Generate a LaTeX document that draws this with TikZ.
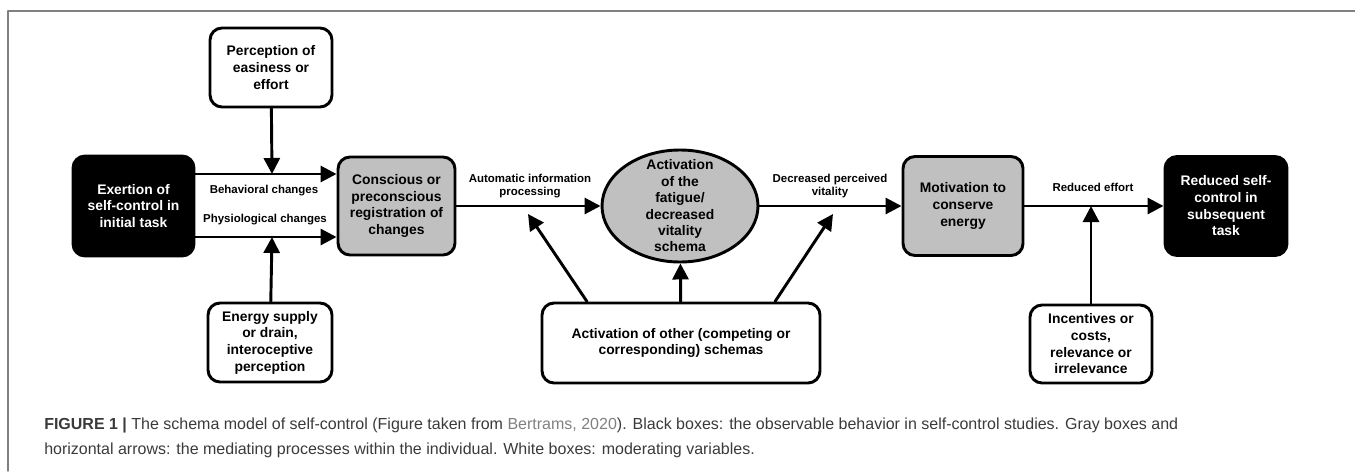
\documentclass[tikz,border=0pt]{standalone}
\usepackage{fontspec}
\setmainfont{Liberation Sans}
\usepackage{xcolor}
\usetikzlibrary{shapes.geometric, arrows.meta}
\definecolor{boxgray}{HTML}{C0C0C0}
\definecolor{capgray}{HTML}{3A3A3A}
\definecolor{linkgray}{HTML}{808080}
\tikzstyle{arrow} = [line width=2.2pt,->,>={Triangle[length=12pt,width=12pt]}]
\tikzstyle{box} = [draw, line width=2.2pt, rounded corners=9pt, align=center, inner sep=0pt, font=\fontsize{10.4}{12.5}\selectfont\bfseries]
\tikzstyle{blackbox} = [box, fill=black, text=white]
\tikzstyle{graybox} = [box, fill=boxgray]
\tikzstyle{whitebox} = [box, fill=white]
\tikzstyle{lbl} = [align=center, inner sep=0pt, font=\fontsize{8.6}{9.8}\selectfont\bfseries]

\begin{document}
\begin{tikzpicture}[line cap=round,line join=round,x=0.75pt,y=-0.75pt]
            \useasboundingbox (0,0) rectangle (1355,471);
            \draw [gray, line width=1.1pt] (8,471) -- (8,11) -- (1355,11);
            % boxes of the chain
            \node [blackbox, minimum width=90.75pt, minimum height=75pt] (exert) at (133.5,206) {Exertion of\\self-control in\\initial task};
            \node [graybox, minimum width=87.75pt, minimum height=73.5pt] (consc) at (396.5,206) {Conscious or\\preconscious\\registration of\\changes};
            \node [ellipse, draw, line width=2.2pt, fill=boxgray, align=center, inner xsep=0pt, inner ysep=-30pt, minimum width=117pt, minimum height=84pt, font=\fontsize{10.4}{12.3}\selectfont\bfseries] (schema) at (680,206) {Activation\\of the\\fatigue/\\decreased\\vitality\\schema};
            \node [graybox, minimum width=90pt, minimum height=74.25pt] (motiv) at (963,206) {Motivation to\\conserve\\energy};
            \node [blackbox, minimum width=91.5pt, minimum height=74.25pt] (reduced) at (1226,206) {Reduced self-\\control in\\subsequent\\task};
            % moderating boxes
            \node [whitebox, minimum width=91.5pt, minimum height=59.25pt] (percep) at (271,67.5) {Perception of\\easiness or\\effort};
            \node [whitebox, minimum width=93pt, minimum height=59.25pt] (energy) at (270,342.5) {Energy supply\\or drain,\\interoceptive\\perception};
            \node [whitebox, minimum width=208.5pt, minimum height=60pt] (others) at (681,343) {Activation of other (competing or\\corresponding) schemas};
            \node [whitebox, minimum width=91.5pt, minimum height=58.5pt] (incent) at (1091,344) {Incentives or\\costs,\\relevance or\\irrelevance};
            % meeting points on the arrows
            \coordinate (beh) at (272,174);
            \coordinate (phys) at (272,237);
            \coordinate (autotip) at (528,214);
            \coordinate (vitaltip) at (833,214);
            \coordinate (efftip) at (1091,206);
            % arrows
            \draw [arrow] (exert.east |- beh) -- (consc.west |- beh);
            \draw [arrow] (exert.east |- phys) -- (consc.west |- phys);
            \draw [arrow] (percep) -- (beh);
            \draw [arrow] (energy) -- (phys);
            \draw [arrow] (consc) -- (schema);
            \draw [arrow] (schema) -- (motiv);
            \draw [arrow] (motiv) -- (reduced);
            \draw [arrow] (others.north -| 587,0) -- (autotip);
            \draw [arrow] (others) -- (schema);
            \draw [arrow] (others.north -| 775,0) -- (vitaltip);
            \draw [arrow] (incent) -- (efftip);
            % labels
            \node [lbl] (behlbl) at (264,191) {Behavioral changes};
            \node [lbl] (physlbl) at (265,220) {Physiological changes};
            \node [lbl] (autolbl) at (530,186) {Automatic information\\processing};
            \node [lbl] (vitallbl) at (830,186) {Decreased perceived\\vitality};
            \node [lbl] (efflbl) at (1093,187) {Reduced effort};
            % caption
            \node [anchor=west, inner sep=0pt, text=capgray, font=\fontsize{12}{14}\selectfont] (cap1) at (44,425) {\textbf{FIGURE 1 |} The schema model of self-control (Figure taken from {\color{linkgray}Bertrams, 2020}). Black boxes: the observable behavior in self-control studies. Gray boxes and};
            \node [anchor=west, inner sep=0pt, text=capgray, font=\fontsize{12}{14}\selectfont] (cap2) at (44,450) {horizontal arrows: the mediating processes within the individual. White boxes: moderating variables.};
        \end{tikzpicture}
\end{document}
